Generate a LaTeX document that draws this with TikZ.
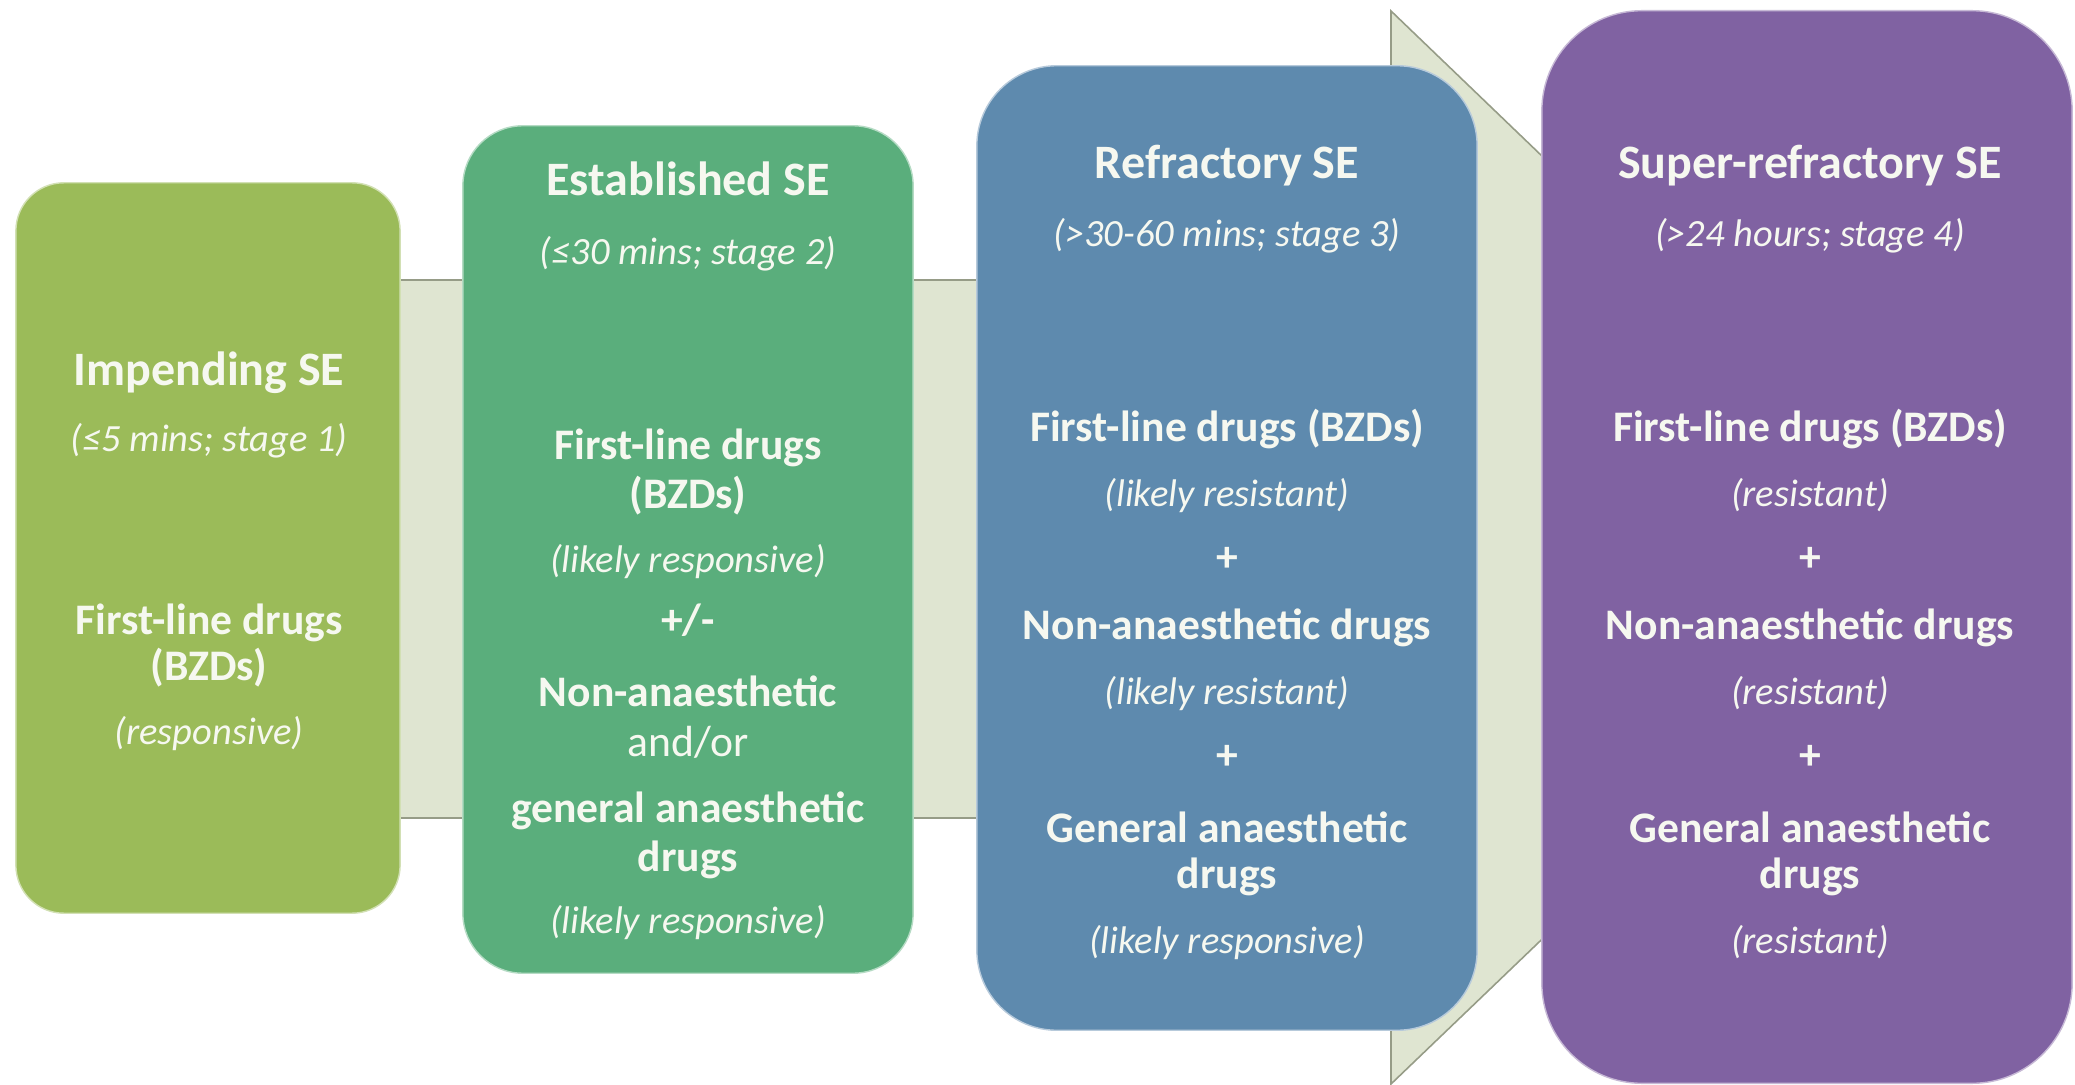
\documentclass[tikz,border=0pt]{standalone}
\usepackage{fontspec}
\setmainfont{Carlito}
\definecolor{cA}{RGB}{155,187,89}
\definecolor{cB}{RGB}{90,174,124}
\definecolor{cC}{RGB}{94,138,174}
\definecolor{cD}{RGB}{128,98,162}
\definecolor{arrfill}{RGB}{223,229,209}
\definecolor{arrline}{RGB}{150,156,135}
\definecolor{txt}{RGB}{246,248,240}
\tikzset{
  stagebox/.style={draw=#1!45!white, fill=#1, line width=0.4pt, inner sep=0pt},
  ttlS/.style={text=txt, font=\fontsize{13.65pt}{16pt}\selectfont\bfseries, inner sep=0pt, text height=0.7em, text depth=0.2em},
  subS/.style={text=txt, font=\fontsize{10.95pt}{13pt}\selectfont\itshape, inner sep=0pt, text height=0.7em, text depth=0.2em},
  bodS/.style={text=txt, font=\fontsize{12.4pt}{15pt}\selectfont\bfseries, inner sep=0pt, text height=0.7em, text depth=0.2em},
  regS/.style={text=txt, font=\fontsize{12.4pt}{15pt}\selectfont, inner sep=0pt, text height=0.7em, text depth=0.2em}
}
\begin{document}
\begin{tikzpicture}[x=0.01cm, y=-0.01cm]
\fill[white] (0,0) rectangle (2075,1085);
\useasboundingbox (0,0) rectangle (2075,1085);
% background arrow
\draw[fill=arrfill, draw=arrline, line width=0.45pt, line join=miter]
  (300,280) -- (1391,280) -- (1391,11) -- (1950,548) -- (1391,1084) -- (1391,818) -- (300,818) -- cycle;
% boxes
\node[stagebox=cA, rounded corners=0.48cm, minimum width=3.84cm, minimum height=7.30cm] (b1) at (208,548) {};
\node[stagebox=cB, rounded corners=0.60cm, minimum width=4.50cm, minimum height=8.47cm] (b2) at (688,549.5) {};
\node[stagebox=cC, rounded corners=0.80cm, minimum width=5.00cm, minimum height=9.64cm] (b3) at (1227,548) {};
\node[stagebox=cD, rounded corners=1.00cm, minimum width=5.30cm, minimum height=10.72cm] (b4) at (1807,547) {};
\begin{scope}[yshift=-0.065cm]
% box 1
\node[ttlS] (t1a) at (209,370.5) {Impending SE};
\node[subS] (t1b) at (209,436.7) {(≤5 mins; stage 1)};
\node[bodS] (t1c) at (209,619.3) {First-line drugs};
\node[bodS] (t1d) at (209,665.6) {(BZDs)};
\node[subS] (t1e) at (209,729.1) {(responsive)};
% box 2
\node[ttlS] (t2a) at (688,180) {Established SE};
\node[subS] (t2b) at (688,248.8) {(≤30 mins; stage 2)};
\node[bodS] (t2c) at (688,444.6) {First-line drugs};
\node[bodS] (t2d) at (688,493.6) {(BZDs)};
\node[subS] (t2e) at (688,557.1) {(likely responsive)};
\node[bodS] (t2f) at (688,619.3) {+/-};
\node[bodS] (t2g) at (688,690.8) {Non-anaesthetic};
\node[regS] (t2h) at (688,741) {and/or};
\node[bodS] (t2i) at (688,807.2) {general anaesthetic};
\node[bodS] (t2j) at (688,856.2) {drugs};
\node[subS] (t2k) at (688,918.4) {(likely responsive)};
% box 3
\node[ttlS] (t3a) at (1227,162.8) {Refractory SE};
\node[subS] (t3b) at (1227,231.6) {(>30-60 mins; stage 3)};
\node[bodS] (t3c) at (1227,426.1) {First-line drugs (BZDs)};
\node[subS] (t3d) at (1227,491) {(likely resistant)};
\node[bodS] (t3e) at (1227,555.8) {+};
\node[bodS] (t3f) at (1227,624.6) {Non-anaesthetic drugs};
\node[subS] (t3g) at (1227,689.4) {(likely resistant)};
\node[bodS] (t3h) at (1227,754.3) {+};
\node[bodS] (t3i) at (1227,827.1) {General anaesthetic};
\node[bodS] (t3j) at (1227,873.4) {drugs};
\node[subS] (t3k) at (1227,938.2) {(likely responsive)};
% box 4
\node[ttlS] (t4a) at (1810,162.8) {Super-refractory SE};
\node[subS] (t4b) at (1810,231.6) {(>24 hours; stage 4)};
\node[bodS] (t4c) at (1810,426.1) {First-line drugs (BZDs)};
\node[subS] (t4d) at (1810,491) {(resistant)};
\node[bodS] (t4e) at (1810,555.8) {+};
\node[bodS] (t4f) at (1810,624.6) {Non-anaesthetic drugs};
\node[subS] (t4g) at (1810,689.4) {(resistant)};
\node[bodS] (t4h) at (1810,754.3) {+};
\node[bodS] (t4i) at (1810,827.1) {General anaesthetic};
\node[bodS] (t4j) at (1810,873.4) {drugs};
\node[subS] (t4k) at (1810,938.2) {(resistant)};
\end{scope}
\end{tikzpicture}
\end{document}
